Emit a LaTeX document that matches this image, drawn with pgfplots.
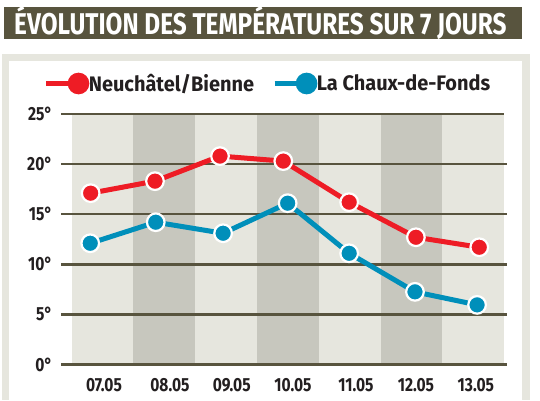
\documentclass[border=0pt]{standalone}
\usepackage{fontspec}
\setmainfont{Fira Sans}[FakeStretch=0.82]
\newfontfamily\titlefont{Fira Sans}[FakeStretch=0.812]
\newfontfamily\legfont{Fira Sans}[FakeStretch=0.95]
\usepackage{pgfplots}
\pgfplotsset{compat=1.18}
\definecolor{olive}{HTML}{58543E}
\definecolor{lightcol}{HTML}{E6E6DE}
\definecolor{darkcol}{HTML}{C7C7BE}
\definecolor{redc}{HTML}{EE1C25}
\definecolor{bluec}{HTML}{008FBA}
\definecolor{txt}{HTML}{231F20}
\begin{document}
\begin{tikzpicture}[x=1pt,y=1pt]
\useasboundingbox (0,0) rectangle (540,400);
\fill[lightcol] (2,0) rectangle (530,346);
\fill[white] (9,0) rectangle (522,339);
\fill[olive] (4,361.2) rectangle (522,392.5);
\node[anchor=base west, text=white, inner sep=0pt, font=\titlefont\bfseries\fontsize{30}{32}\selectfont] at (14,365.7) {ÉVOLUTION DES TEMPÉRATURES SUR 7 JOURS};
\begin{axis}[
  at={(61pt,35.5pt)}, anchor=south west,
  scale only axis, width=446pt, height=250.5pt,
  xmin=-0.173, xmax=7.044, ymin=0, ymax=25,
  clip=false,
  axis line style={draw=none},
  major tick length=0pt,
  /pgf/number format/assume math mode=true,
  xtick={0.523,1.59,2.59,3.58,4.6,5.57,6.54},
  xticklabels={07.05,08.05,09.05,10.05,11.05,12.05,13.05},
  ytick={0,5,10,15,20,25},
  yticklabel={\pgfmathprintnumber{\tick}°},
  tick label style={font=\bfseries\fontsize{19}{22}\selectfont, text=txt, inner sep=0pt},
  xticklabel style={anchor=north, yshift=-13.8pt},
  yticklabel style={anchor=east, xshift=-8.3pt},
  legend columns=2,
  legend style={at={(axis description cs:0,1)}, anchor=west, xshift=-17pt, yshift=30.5pt,
    draw=none, fill=none, inner sep=0pt, outer sep=0pt,
    nodes={inner sep=0pt, text=txt, font=\legfont\bfseries\fontsize{21}{24}\selectfont},
    /tikz/every even column/.append style={column sep=18pt},
    /tikz/every odd column/.append style={column sep=2pt}},
  legend image code/.code={
    \draw[#1, mark=none, line width=5pt] (0pt,0pt) -- (21pt,0pt);
    \draw[#1, only marks, mark size=8.3pt, mark options={draw=none}] plot coordinates {(32pt,0pt)};
  },
]
\addplot[fill=lightcol, draw=none, forget plot] coordinates {(0,25)(7,25)} \closedcycle;
\addplot[fill=darkcol, draw=none, forget plot] coordinates {(1,25)(2,25)} \closedcycle;
\addplot[fill=darkcol, draw=none, forget plot] coordinates {(3,25)(4,25)} \closedcycle;
\addplot[fill=darkcol, draw=none, forget plot] coordinates {(5,25)(6,25)} \closedcycle;
\addplot[olive, line width=2.4pt, forget plot] coordinates {(-0.173,0)(7.044,0)};
\addplot[olive, line width=2.4pt, forget plot] coordinates {(-0.173,5)(7.044,5)};
\addplot[olive, line width=2.4pt, forget plot] coordinates {(-0.173,10)(7.044,10)};
\addplot[olive, line width=2.4pt, forget plot] coordinates {(-0.173,15)(7.044,15)};
\addplot[olive, line width=2.4pt, forget plot] coordinates {(-0.173,20)(7.044,20)};
\addplot[olive, line width=2.4pt, forget plot] coordinates {(-0.173,25)(7.0,25)};
\addplot[redc, line width=5pt, mark=*, mark size=8.8pt, mark options={fill=redc, draw=white, line width=2.2pt}]
  coordinates {(0.307,17.1)(1.348,18.3)(2.40,20.8)(3.424,20.3)(4.49,16.2)(5.57,12.7)(6.595,11.7)};
\addlegendentry{Neuchâtel/Bienne}
\addplot[bluec, line width=5pt, mark=*, mark size=8.8pt, mark options={fill=bluec, draw=white, line width=2.2pt}]
  coordinates {(0.30,12.1)(1.36,14.2)(2.45,13.1)(3.495,16.1)(4.49,11.1)(5.555,7.25)(6.56,5.95)};
\addlegendentry{La Chaux-de-Fonds}
\end{axis}
\end{tikzpicture}
\end{document}
